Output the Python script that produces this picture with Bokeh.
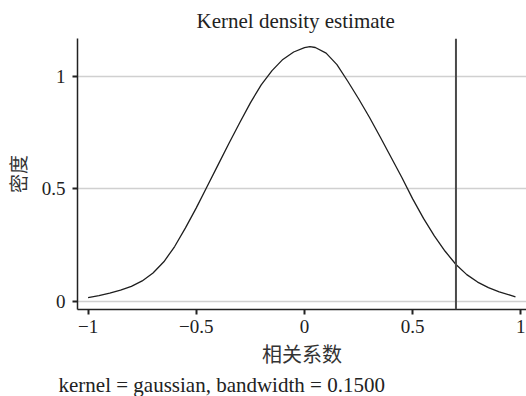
from bokeh.plotting import figure
from bokeh.models import FixedTicker, Span, Title, Range1d
from bokeh.embed import file_html
from bokeh.resources import INLINE

# density estimate
x_vals = [-1.0, -0.95, -0.9, -0.85, -0.8, -0.75, -0.7, -0.65, -0.6, -0.55, -0.5,
          -0.45, -0.4, -0.35, -0.3, -0.25, -0.2, -0.15, -0.1, -0.05, 0.0, 0.025,
          0.05, 0.1, 0.15, 0.2, 0.25, 0.3, 0.35, 0.4, 0.45, 0.5, 0.55, 0.6, 0.65,
          0.7, 0.75, 0.8, 0.85, 0.9, 0.95, 0.975]
density = [0.016, 0.025, 0.036, 0.049, 0.066, 0.09, 0.125, 0.175, 0.243, 0.326, 0.415,
           0.51, 0.605, 0.70, 0.792, 0.882, 0.962, 1.025, 1.075, 1.108, 1.127, 1.132,
           1.128, 1.103, 1.052, 0.978, 0.90, 0.818, 0.73, 0.64, 0.55, 0.455, 0.368, 0.29, 0.222,
           0.163, 0.118, 0.085, 0.06, 0.041, 0.027, 0.019]
observed_r = 0.70

x_ticks = [-1, -0.5, 0, 0.5, 1]
x_tick_labels = ["\u22121", "\u22120.5", "0", "0.5", "1"]
y_ticks = [0, 0.5, 1]
y_tick_labels = ["0", "0.5", "1"]

SERIF = "serif"
CJK = "Noto Sans CJK SC"

p = figure(width=526, height=396, output_backend="svg", toolbar_location=None,
           x_range=Range1d(-1.049, 1.026), y_range=Range1d(-0.037, 1.168),
           min_border_left=77, min_border_right=0, min_border_top=38, min_border_bottom=85)
p.outline_line_color = None
p.background_fill_color = "white"
p.border_fill_color = "white"

p.title.text = "Kernel density estimate"
p.title.text_font = SERIF
p.title.text_font_style = "normal"
p.title.text_font_size = "21px"
p.title.text_color = "#222222"
p.title.align = "left"
p.title.offset = 119
p.title.standoff = 12

p.line(x_vals, density, line_color="#1e1e1e", line_width=1.3)

span = Span(location=observed_r, dimension="height", line_color="#4a4a4a", line_width=2)
p.add_layout(span)

p.xgrid.visible = False
p.ygrid.ticker = FixedTicker(ticks=y_ticks)
p.ygrid.grid_line_color = "#d0d0d0"
p.ygrid.grid_line_width = 1.5

for ax in (p.xaxis[0], p.yaxis[0]):
    ax.axis_line_color = "#222222"
    ax.axis_line_width = 1.5
    ax.major_tick_line_color = "#222222"
    ax.major_tick_line_width = 2
    ax.major_tick_out = 5
    ax.major_tick_in = 0
    ax.minor_tick_line_color = None
    ax.major_label_text_font = SERIF
    ax.major_label_text_font_size = "19px"
    ax.major_label_text_color = "#222222"
    ax.axis_label_text_font = CJK
    ax.axis_label_text_font_style = "normal"
    ax.axis_label_text_color = "#333333"

p.xaxis.ticker = FixedTicker(ticks=x_ticks)
p.xaxis.major_label_overrides = dict(zip(x_ticks, x_tick_labels))
p.xaxis.major_label_standoff = 5
p.xaxis.axis_label = "相关系数"
p.xaxis.axis_label_text_font_size = "20px"
p.xaxis.axis_label_standoff = 3

p.yaxis.ticker = FixedTicker(ticks=y_ticks)
p.yaxis.major_label_overrides = dict(zip(y_ticks, y_tick_labels))
p.yaxis.major_label_standoff = 7
p.yaxis.axis_label = "密度"
p.yaxis.axis_label_text_font_size = "19px"
p.yaxis.axis_label_standoff = 8

sub = Title(text="kernel = gaussian, bandwidth = 0.1500", text_font=SERIF,
            text_font_style="normal", text_font_size="21px", text_color="#222222",
            align="left", offset=-19, standoff=0)
p.add_layout(sub, "below")

open("out.html", "w").write(file_html(p, INLINE))
